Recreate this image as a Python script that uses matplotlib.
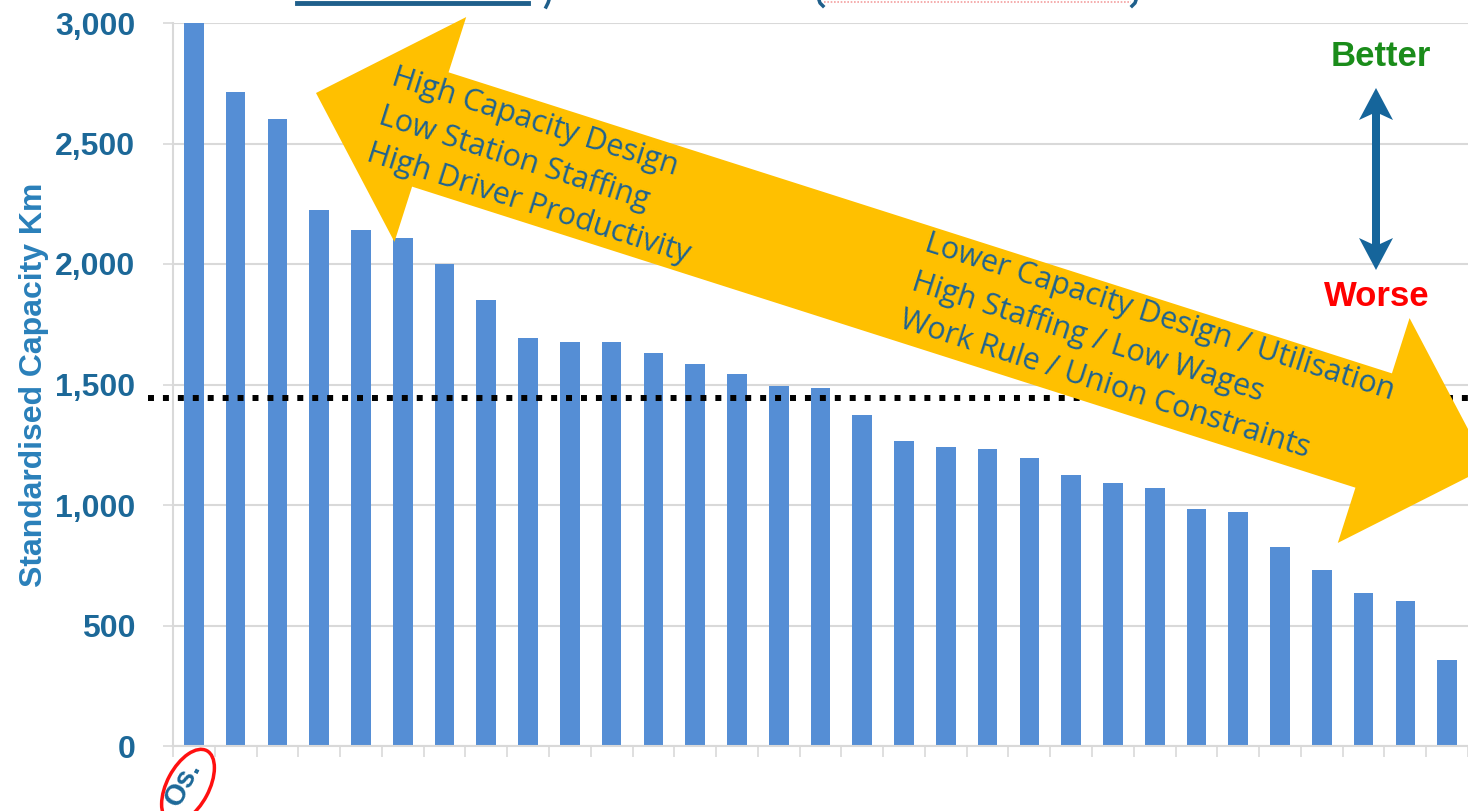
import numpy as np
import matplotlib
matplotlib.use("Agg")
import matplotlib.pyplot as plt
from matplotlib.patches import Polygon, Ellipse
from matplotlib.lines import Line2D

# ---- data -------------------------------------------------------------
capacity_km = [3000, 2715, 2600, 2225, 2140, 2108, 2000, 1850, 1693, 1677,
               1677, 1632, 1586, 1545, 1494, 1487, 1373, 1266, 1241, 1233,
               1195, 1124, 1092, 1070, 984, 972, 827, 731, 636, 602, 358]
category_labels = ["Os."] + [""] * (len(capacity_km) - 1)
average_km = 1446
y_ticks = [0, 500, 1000, 1500, 2000, 2500, 3000]

left_arrow_lines = ["High Capacity Design", "Low Station Staffing",
                    "High Driver Productivity"]
right_arrow_lines = ["Lower Capacity Design / Utilisation",
                     "High Staffing / Low Wages",
                     "Work Rule / Union Constraints"]

# ---- style ------------------------------------------------------------
W, H = 1468, 811
BAR = "#558ED5"
TICK_BLUE = "#1C6898"
LABEL_BLUE = "#2A80BA"
NOTE_BLUE = "#1F6391"
YELLOW = "#FFC000"
ARROW_BLUE = "#15659B"
GRID = "#D9D9D9"

fig = plt.figure(figsize=(W / 100, H / 100), dpi=100)
ax = fig.add_axes([173 / W, 1 - 746 / H, 1 - 173 / W, (746 - 23) / H])


def fx(px):
    return px / W


def fy(py):
    return 1 - py / H


x = np.arange(len(capacity_km))
ax.bar(x, capacity_km, width=0.47, color=BAR, zorder=2)

ax.set_xlim(-0.5, len(capacity_km) - 0.5)
ax.set_ylim(0, 3000)
ax.set_yticks(y_ticks)
ax.set_yticklabels([f"{v:,}" for v in y_ticks], fontsize=23,
                   fontweight="bold", color=TICK_BLUE,
                   family="Liberation Sans")
ax.yaxis.grid(True, color=GRID, lw=1.5, zorder=0)
ax.tick_params(axis="y", length=7, width=1.2, color=GRID, pad=20)

# category boundaries as tick marks, names as minor labels
ax.set_xticks(np.arange(len(capacity_km) + 1) - 0.5)
ax.set_xticklabels([])
ax.tick_params(axis="x", which="major", length=8, width=1.2, color=GRID)
ax.set_xticks(x, minor=True)
ax.set_xticklabels(category_labels, minor=True, rotation=62, ha="right",
                   va="center", rotation_mode="anchor", fontsize=21,
                   fontweight="bold", color=TICK_BLUE,
                   family="Liberation Sans")
ax.tick_params(axis="x", which="minor", length=0, pad=12)

for side in ("top", "right"):
    ax.spines[side].set_visible(False)
for side in ("left", "bottom"):
    ax.spines[side].set_color(GRID)
    ax.spines[side].set_linewidth(1.5)

ax.set_ylabel("Standardised Capacity Km", fontsize=23, fontweight="bold",
              color=LABEL_BLUE, family="Liberation Sans")
ax.yaxis.set_label_coords(-0.096, 0.50)

# network average
ax.axhline(average_km, xmin=-0.0193, xmax=1.0, color="black", lw=4.3,
           linestyle=(0, (1.0, 1.5)), dash_capstyle="butt", clip_on=False,
           zorder=3)

# highlight around the first category name (pixel-based inches transform)
ax.add_patch(Ellipse((1.88, (H - 786) / 100), width=0.80, height=0.42,
                     angle=62, transform=fig.dpi_scale_trans, fill=False,
                     ec="#FF1010", lw=2.5, clip_on=False, zorder=6))

# ---- big double-headed yellow arrow ------------------------------------
p0 = np.array([316.0, H - 93.0])
p1 = np.array([1488.0, H - 467.0])
u = (p1 - p0) / np.linalg.norm(p1 - p0)
n = np.array([-u[1], u[0]])
shaft, head_w, head_l = 60.0, 118.0, 120.0
verts = [p0,
         p0 + head_l * u + head_w * n,
         p0 + head_l * u + shaft * n,
         p1 - head_l * u + shaft * n,
         p1 - head_l * u + head_w * n,
         p1,
         p1 - head_l * u - head_w * n,
         p1 - head_l * u - shaft * n,
         p0 + head_l * u - shaft * n,
         p0 + head_l * u - head_w * n]
verts = np.array(verts) / np.array([W, H])
fig.add_artist(Polygon(verts, closed=True, transform=fig.transFigure,
                       fc=YELLOW, ec="none", zorder=5))

angle = -np.degrees(np.arctan2(374, 1172))
fig.text(fx(397), fy(62), "\n".join(left_arrow_lines), rotation=angle,
         rotation_mode="anchor", ha="left", va="top", fontsize=22,
         family="Open Sans", color=NOTE_BLUE, linespacing=1.42, zorder=7)
fig.text(fx(930), fy(228), "\n".join(right_arrow_lines), rotation=angle,
         rotation_mode="anchor", ha="left", va="top", fontsize=22,
         family="Open Sans", color=NOTE_BLUE, linespacing=1.42, zorder=7)

# ---- better / worse indicator -----------------------------------------
cx, top, bot = 1376.0, 88.0, 270.0
sw, hw, hl = 4.0, 17.0, 32.0
arrow = [(cx, top), (cx + hw, top + hl), (cx + sw, top + hl - 6),
         (cx + sw, bot - hl + 6), (cx + hw, bot - hl), (cx, bot),
         (cx - hw, bot - hl), (cx - sw, bot - hl + 6), (cx - sw, top + hl - 6),
         (cx - hw, top + hl)]
arrow = [(fx(a), fy(b)) for a, b in arrow]
fig.add_artist(Polygon(arrow, closed=True, transform=fig.transFigure,
                       fc=ARROW_BLUE, ec="none", zorder=6))
fig.text(fx(1381), fy(57), "Better", ha="center", va="center", fontsize=25,
         fontweight="bold", color="#1A8C1A", family="Liberation Sans")
fig.text(fx(1377), fy(296), "Worse", ha="center", va="center", fontsize=25,
         fontweight="bold", color="#FF0000", family="Liberation Sans")

# ---- heading underline strokes along the top edge ----------------------
fig.add_artist(Line2D([fx(297), fx(528)], [fy(3), fy(3)], color="#1F5F8B",
                      lw=3.5, transform=fig.transFigure))
fig.add_artist(Line2D([fx(824), fx(1131)], [fy(2), fy(2)], color="#F4A0A0",
                      lw=1.2, linestyle=(0, (1, 1)), transform=fig.transFigure))
for xs, ys in (([549, 548, 546], [0, 3, 7]),
               ([819, 820, 823], [0, 3, 6]),
               ([1136, 1135, 1132], [0, 3, 6])):
    fig.add_artist(Line2D([fx(v) for v in xs], [fy(v) for v in ys],
                          color="#1F5F8B", lw=2.5, transform=fig.transFigure))

fig.savefig("out.png", dpi=100, facecolor="white")
